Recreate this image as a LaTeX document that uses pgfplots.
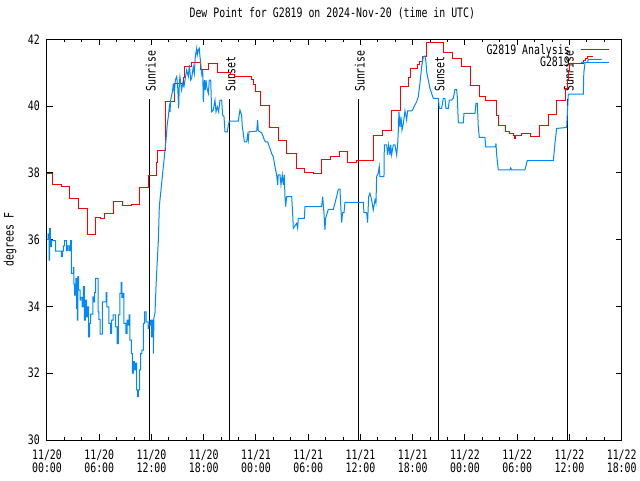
\documentclass[border=0pt]{standalone}
\usepackage{fontspec}
\setmainfont{DejaVu Sans Mono}[FakeStretch=0.76]
\usepackage{pgfplots}
\pgfplotsset{compat=1.18}
\definecolor{obsblue}{RGB}{0,136,255}
\definecolor{anared}{RGB}{255,0,0}
\newcommand\gf{\fontsize{13}{13}\selectfont}
\begin{document}
\begin{tikzpicture}
\path[use as bounding box] (-47pt,-40pt) rectangle (593pt,440pt);
\begin{axis}[
  at={(0pt,0pt)}, anchor=south west,
  scale only axis, width=574.7pt, height=400.7pt,
  xmin=0, xmax=66, ymin=30, ymax=42,
  xtick={0,6,...,66},
  xticklabels={{11/20\\00:00},{11/20\\06:00},{11/20\\12:00},{11/20\\18:00},{11/21\\00:00},{11/21\\06:00},{11/21\\12:00},{11/21\\18:00},{11/22\\00:00},{11/22\\06:00},{11/22\\12:00},{11/22\\18:00}},
  minor xtick={2,4,8,10,14,16,20,22,26,28,32,34,38,40,44,46,50,52,56,58,62,64},
  ytick={30,32,...,42},
  tick align=inside,
  major tick length=6pt, minor tick length=3pt,
  every tick/.style={black, line width=1pt},
  axis line style={line width=1pt},
  font=\gf,
  /pgf/number format/assume math mode=true,
  xticklabel style={align=center, font=\gf, inner sep=0pt, anchor=north, yshift=-10pt},
  yticklabel style={font=\gf, inner sep=0pt, anchor=east, xshift=-7pt},
  title={Dew Point for G2819 on 2024-Nov-20 (time in UTC)},
  title style={at={(axis description cs:0.5,1)}, anchor=center, yshift=20.3pt, xshift=-2pt, font=\gf, inner sep=0pt},
  ylabel={degrees F},
  every axis y label/.style={at={(axis description cs:-0.0644,0.5)}, rotate=90, anchor=center, font=\gf, inner sep=0pt},
]
% sunrise / sunset markers
\addplot[black, line width=1pt, forget plot] coordinates {(11.75,30) (11.75,40.21)};
\addplot[black, line width=1pt, forget plot] coordinates {(20.94,30) (20.94,40.21)};
\addplot[black, line width=1pt, forget plot] coordinates {(35.75,30) (35.75,40.21)};
\addplot[black, line width=1pt, forget plot] coordinates {(44.94,30) (44.94,40.21)};
\addplot[black, line width=1pt, forget plot] coordinates {(59.75,30) (59.75,40.21)};
\node[rotate=90, anchor=west, inner sep=0pt, font=\gf] at (axis cs:11.92,40.42) {Sunrise};
\node[rotate=90, anchor=west, inner sep=0pt, font=\gf] at (axis cs:21.08,40.42) {Sunset};
\node[rotate=90, anchor=west, inner sep=0pt, font=\gf] at (axis cs:35.92,40.42) {Sunrise};
\node[rotate=90, anchor=west, inner sep=0pt, font=\gf] at (axis cs:45.08,40.42) {Sunset};
\node[rotate=90, anchor=west, inner sep=0pt, font=\gf] at (axis cs:59.92,40.42) {Sunrise};
% analysis
\addplot[anared, line width=1pt, const plot] coordinates {
(0,37.97) (0.65,37.64) (1.65,37.60) (2.6,37.24) (3.6,36.94) (4.63,36.14) (5.6,36.67) (6.1,36.64)
(6.66,36.79) (7.69,37.14) (8.69,37.01) (9.65,37.05) (10.68,37.57) (11.71,37.92) (12.6,38.30) (12.7,38.68)
(13.63,40.15) (14.62,40.68) (15.7,40.85) (15.8,41.20) (16.6,41.31) (17.68,41.10) (18.6,41.28) (19.6,41.01)
(21.04,40.95) (21.5,40.88) (22.55,40.90) (23.5,40.80) (23.75,40.65) (24.0,40.45) (24.57,40.03) (25.6,39.37)
(26.57,38.98) (27.5,38.59) (28.6,38.14) (29.55,38.01) (30.58,37.99) (31.55,38.39) (32.6,38.50) (33.57,38.64)
(34.5,38.30) (35.56,38.38) (37.5,39.13) (38.55,39.28) (39.58,39.88) (40.54,40.58) (41.57,40.85) (41.8,41.13)
(42.5,41.25) (42.8,41.35) (43.1,41.48) (43.6,41.91) (45.5,41.61) (46.6,41.43) (47.6,41.18) (48.58,40.63)
(49.65,40.28) (50.4,40.18) (50.57,40.16) (51.64,39.73) (51.83,39.43) (52.6,39.23) (53.1,39.18) (53.55,39.13)
(53.65,39.03) (53.75,39.13) (54.5,39.18) (55.58,39.08) (56.6,39.41) (57.57,39.75) (58.53,40.17) (59.49,40.53)
(59.75,40.80) (59.9,41.08) (60.06,41.28) (61.6,41.36) (61.8,41.42) (62.05,41.48) (62.66,41.48)
};
% observations
\addplot[obsblue, line width=1pt] coordinates {
(0,36.01) (0.115,36.01) (0.115,36.17) (0.23,36.17) (0.23,35.39) (0.31,35.39) (0.31,36.34) (0.38,36.34)
(0.38,35.79) (0.50,35.79) (0.50,35.97) (1.00,35.97) (1.00,35.66) (1.65,35.66) (1.65,35.49) (1.76,35.49)
(1.76,35.66) (1.88,35.66) (1.88,35.81) (2.03,35.81) (2.03,35.97) (2.26,35.97) (2.26,35.67) (2.41,35.67)
(2.41,35.81) (2.57,35.81) (2.57,35.67) (2.72,35.67) (2.72,35.97) (2.79,35.97) (2.79,34.99) (3.02,34.99)
(3.02,35.16) (3.10,35.16) (3.10,34.67) (3.18,34.67) (3.18,34.34) (3.33,34.34) (3.33,34.84) (3.41,34.84)
(3.41,33.94) (3.48,33.94) (3.48,33.59) (3.56,33.59) (3.56,34.89) (3.64,34.89) (3.64,34.49) (3.79,34.49)
(3.79,34.19) (3.87,34.19) (3.87,34.27) (4.02,34.27) (4.02,33.99) (4.17,33.99) (4.17,34.59) (4.29,34.59)
(4.29,33.59) (4.40,33.59) (4.40,34.19) (4.56,34.19) (4.56,33.69) (4.67,33.69) (4.67,33.99) (4.79,33.99)
(4.79,33.09) (4.90,33.09) (4.90,33.49) (5.02,33.49) (5.02,33.77) (5.28,33.77) (5.28,34.29) (5.40,34.29)
(5.40,34.14) (5.47,34.14) (5.47,34.41) (5.59,34.41) (5.59,34.84) (5.86,34.84) (5.86,33.84) (5.97,33.84)
(5.97,33.61) (6.09,33.61) (6.09,33.17) (6.36,33.17) (6.36,34.14) (6.78,34.14) (6.78,34.41) (6.89,34.41)
(6.89,33.99) (7.12,33.99) (7.12,33.49) (7.31,33.49) (7.31,33.19) (7.43,33.19) (7.43,33.59) (7.58,33.59)
(7.58,33.75) (7.89,33.75) (7.89,33.39) (8.04,33.39) (8.04,32.89) (8.19,32.89) (8.19,33.75) (8.38,33.75)
(8.38,34.39) (8.50,34.39) (8.50,34.72) (8.61,34.72) (8.61,34.27) (8.73,34.27) (8.73,34.39) (8.84,34.39)
(8.84,33.49) (9.07,33.49) (9.07,33.19) (9.19,33.19) (9.19,33.59) (9.30,33.59) (9.30,33.44) (9.42,33.44)
(9.42,33.75) (9.53,33.75) (9.53,32.99) (9.69,32.99) (9.69,32.59) (9.80,32.59) (9.80,32.00) (9.92,32.00)
(9.92,32.35) (10.03,32.35) (10.03,32.10) (10.18,32.10) (10.18,32.30) (10.30,32.30) (10.30,31.50) (10.41,31.50)
(10.41,31.30) (10.49,31.30) (10.49,31.50) (10.64,31.50) (10.64,32.10) (10.76,32.10) (10.76,32.59) (10.91,32.59)
(10.91,32.69) (11.06,32.69) (11.06,33.49) (11.22,33.49) (11.22,33.84) (11.37,33.84) (11.37,33.54) (11.60,33.54)
(11.60,33.34) (11.71,33.34) (11.71,33.44) (11.83,33.44) (11.83,33.59) (11.98,33.59) (11.98,33.09) (12.14,33.09)
(12.14,33.59) (12.21,33.59) (12.21,32.59)
(12.29,33.69) (12.40,33.79) (12.52,34.59) (12.59,34.99) (12.79,35.99) (12.90,36.99) (13.05,37.39) (13.17,37.69)
(13.28,37.99) (13.44,38.38) (13.55,38.69) (13.67,38.99) (13.82,39.48) (13.93,39.68) (14.05,39.98) (14.13,39.83)
(14.20,40.18) (14.32,40.33) (14.43,40.48) (14.51,40.68) (14.62,40.38) (14.74,40.78) (14.89,40.88) (15.01,40.58)
(15.12,39.93) (15.20,40.68) (15.27,40.88) (15.46,40.48) (15.58,40.68) (15.73,40.58) (15.85,40.78) (16.04,41.08)
(16.23,40.88) (16.35,41.23) (16.50,40.78) (16.61,40.83) (16.80,41.18) (16.92,40.98) (17.03,41.48) (17.19,41.73)
(17.26,41.53) (17.38,41.68) (17.49,41.73) (17.57,41.48) (17.69,41.18) (17.80,40.88) (17.88,41.08) (17.95,40.13)
(18.07,40.78) (18.18,40.48) (18.26,40.78) (18.34,40.58) (18.53,40.38) (18.64,40.78) (18.80,40.78) (18.91,39.83)
(19.10,39.88) (19.29,40.18) (19.41,39.83) (19.56,39.98) (19.71,39.83) (19.87,40.18) (20.06,40.18) (20.17,39.73)
(20.33,39.68) (20.44,39.23) (20.71,39.23) (20.82,39.43) (20.94,39.55)
(21.97,39.55) (22.16,39.88) (22.35,39.73) (22.43,39.38) (22.55,39.18) (22.66,38.93) (22.93,38.93) (23.04,39.13)
(23.12,38.98) (23.20,39.23) (24.08,39.25) (24.19,39.58) (24.27,39.26) (24.65,39.20) (24.84,39.08) (24.96,38.98)
(25.11,38.93) (25.34,38.93) (25.61,38.73) (25.80,38.58) (25.99,38.48) (26.18,38.19) (26.37,37.94) (26.49,37.64)
(26.56,37.94) (26.76,37.94) (26.87,37.64) (27.02,37.94) (27.14,37.64) (27.25,37.94) (27.33,37.29) (27.41,36.99)
(27.52,37.29) (28.10,37.29) (28.21,36.79) (28.29,36.34) (28.67,36.49) (28.79,36.34) (28.86,36.64) (29.55,36.64)
(29.63,36.99) (31.54,36.99) (31.66,37.29) (31.81,36.79) (31.92,36.29) (32.00,36.64) (32.31,36.91) (32.88,36.91)
(33.07,37.09) (33.26,37.29) (33.46,37.51) (33.65,37.51)
(33.72,37.09) (33.84,36.51) (33.95,36.81) (34.11,36.81) (34.22,37.12) (36.33,37.12) (36.40,36.81) (36.71,36.81)
(36.82,36.51) (36.94,37.29) (37.09,37.39) (37.28,37.19) (37.47,36.89) (37.67,37.19) (37.78,37.09) (37.86,37.89)
(38.05,37.99) (38.16,38.19) (38.24,37.89) (38.70,37.89) (38.74,38.84) (39.01,38.84) (39.12,38.54) (39.24,38.84)
(39.39,38.54) (39.47,38.84) (39.58,38.54) (39.77,38.84) (39.96,38.84) (40.15,38.54) (40.27,38.84) (40.35,39.28)
(40.42,39.83) (40.54,39.38) (40.65,39.68) (40.77,39.28) (40.92,39.48) (41.11,39.86) (41.30,39.58) (41.42,39.86)
(41.88,39.86) (41.99,39.88) (42.14,39.98) (42.45,40.13) (42.64,40.28) (42.83,40.68) (43.03,41.18) (43.22,41.48)
(43.41,41.50) (43.52,41.33) (43.60,41.03) (43.79,40.78) (43.98,40.53) (44.17,40.38) (44.37,40.23) (44.94,40.23)
(45.05,39.93) (45.32,39.93) (45.51,40.23) (45.70,40.23) (45.82,39.93) (46.09,39.93) (46.20,40.18) (46.47,40.18)
(46.66,40.23) (46.85,40.50) (47.04,40.50) (47.12,40.28) (47.24,39.50) (47.81,39.50) (47.89,39.78) (49.15,39.78)
(49.26,40.08) (49.42,40.08) (49.53,39.38) (49.65,39.06) (50.30,39.06) (50.37,38.78) (51.52,38.78) (51.56,38.88)
(51.64,38.54) (51.83,38.09) (53.17,38.09) (53.25,38.15) (53.36,38.09) (54.89,38.09) (55.16,38.37) (58.15,38.37)
(58.34,38.89) (58.53,39.33) (59.68,39.36) (59.87,40.36) (61.59,40.36) (61.65,41.00) (61.80,41.31) (62.10,41.31)
(62.15,41.40) (63.70,41.40)
};
% legend (gnuplot style: text, then sample line)
\coordinate (NE) at (axis description cs:1,1);
\node[anchor=base east, inner sep=0pt, font=\gf] at ([xshift=-51.7pt,yshift=-15.4pt]NE) {G2819 Analysis};
\node[anchor=base east, inner sep=0pt, font=\gf] at ([xshift=-51.7pt,yshift=-27.4pt]NE) {G2819};
\draw[anared, line width=1pt] ([xshift=-40.7pt,yshift=-10.4pt]NE) -- ([xshift=-12.4pt,yshift=-10.4pt]NE);
\draw[obsblue, line width=1pt] ([xshift=-40.7pt,yshift=-22.7pt]NE) -- ([xshift=-12.4pt,yshift=-22.7pt]NE);
\end{axis}
\end{tikzpicture}
\end{document}
